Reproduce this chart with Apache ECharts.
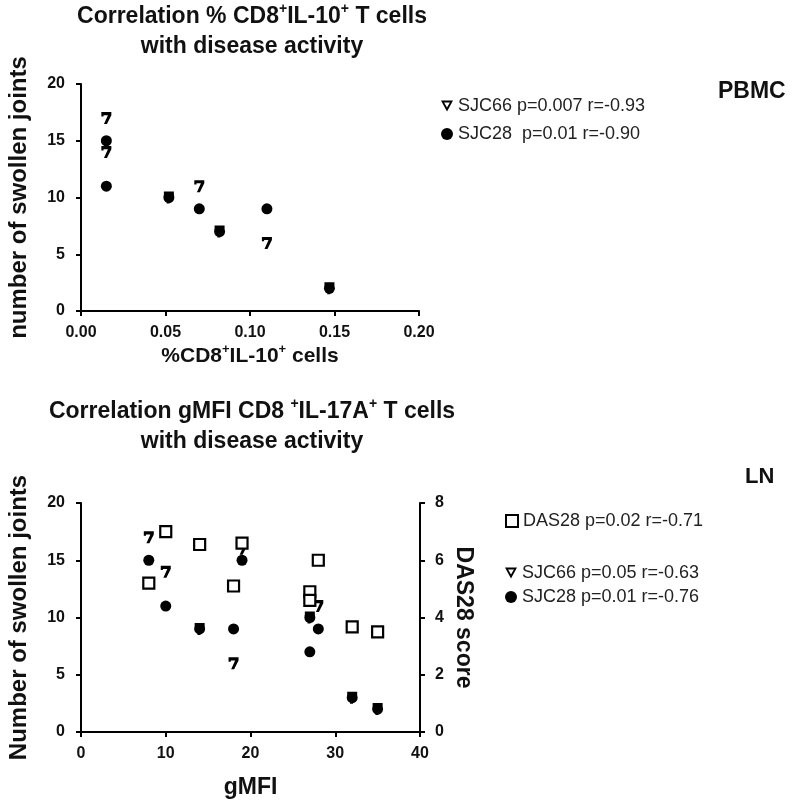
<!DOCTYPE html>
<html><head><meta charset="utf-8">
<script src="https://cdn.jsdelivr.net/npm/echarts@6/dist/echarts.min.js"></script>
<style>html,body{margin:0;padding:0;background:#fff}#c{width:798px;height:804px}</style>
</head><body><div id="c"></div>
<script>
// ---- Top panel (PBMC) ----
const pbmcX_SJC66 = [0.015, 0.015, 0.052, 0.070, 0.082, 0.110, 0.147];
const pbmcY_SJC66 = [17, 14, 10, 11, 7, 6, 2];
const pbmcX_SJC28 = [0.015, 0.015, 0.052, 0.070, 0.082, 0.110, 0.147];
const pbmcY_SJC28 = [15, 11, 10, 9, 7, 9, 2];
// ---- Bottom panel (LN) ----
const lnX_DAS28 = [8, 10, 14, 18, 19, 27, 27, 28, 32, 35];
const lnY_DAS28 = [5.2, 7.0, 6.55, 5.1, 6.6, 4.9, 4.6, 6.0, 3.67, 3.5];
const lnX_SJC66 = [8, 10, 14, 18, 19, 27, 28, 32, 35];
const lnY_SJC66 = [17, 14, 9, 6, 16, 10, 11, 3, 2];
const lnX_SJC28 = [8, 10, 14, 18, 19, 27, 28, 27, 32, 35];
const lnY_SJC28 = [15, 11, 9, 9, 15, 10, 9, 7, 3, 2];

const zip = (a, b) => a.map((v, i) => [v, b[i]]);
const sevenPath = 'path://M0,0 L10,0 L10,3.2 L5.6,12 L2.6,12 L6.6,3.2 L2.2,3.2 L2.2,4.4 L0,4.4 Z';
const triDown = 'path://M0,0 L10,0 L5,9 Z M2.6,1.5 L5,5.8 L7.4,1.5 Z';
const FONT = 'Liberation Sans, Arial, sans-serif';
const INK = '#000';

const axisCommon = {
  axisLine: {show: true, lineStyle: {color: INK, width: 2}},
  axisTick: {show: true, inside: false, length: 5, lineStyle: {color: INK, width: 2}},
  splitLine: {show: false},
  axisLabel: {color: '#111', fontFamily: FONT, fontWeight: 'bold', fontSize: 16, margin: 16},
  nameTextStyle: {color: '#111', fontFamily: FONT, fontWeight: 'bold', fontSize: 24},
  nameLocation: 'middle'
};
const richT = {
  m: {fontSize: 23, fontWeight: 'bold', fontFamily: FONT, color: '#111', lineHeight: 30},
  s: {fontSize: 14, fontWeight: 'bold', fontFamily: FONT, color: '#111', verticalAlign: 'top', lineHeight: 16}
};

const n1 = 'SJC66 p=0.007 r=-0.93';
const n2 = 'SJC28  p=0.01 r=-0.90';
const n3 = 'DAS28 p=0.02 r=-0.71';
const n4 = 'SJC66 p=0.05 r=-0.63';
const n5 = 'SJC28 p=0.01 r=-0.76';

const legendText = {color: '#222', fontFamily: FONT, fontSize: 18};

const option = {
  backgroundColor: '#fff',
  animation: false,
  title: [
    {text: '{m|Correlation % CD8}{s|+}{m|IL-10}{s|+}{m| T cells}\n{m|with disease activity}', left: 247, top: -3, textAlign: 'center',
     textStyle: {rich: richT}},
    {text: '{m|Correlation gMFI CD8 }{s|+}{m|IL-17A}{s|+}{m| T cells}\n{m|with disease activity}', left: 247, top: 392, textAlign: 'center',
     textStyle: {rich: richT}},
    {text: 'PBMC', left: 713, top: 75, textStyle: {fontFamily: FONT, fontWeight: 'bold', fontSize: 23, color: '#111'}},
    {text: 'LN', left: 740, top: 461, textStyle: {fontFamily: FONT, fontWeight: 'bold', fontSize: 22, color: '#111'}}
  ],
  legend: [
    {orient: 'vertical', left: 436, top: 92, itemGap: 10, itemWidth: 12, itemHeight: 12, textStyle: legendText,
     data: [{name: n1, icon: triDown, itemStyle: {color: INK}}, {name: n2, icon: 'circle'}]},
    {orient: 'vertical', left: 500, top: 507, itemWidth: 12, itemHeight: 12, textStyle: legendText,
     data: [{name: n3, icon: 'rect'}]},
    {orient: 'vertical', left: 500, top: 559, itemGap: 6, itemWidth: 12, itemHeight: 12, textStyle: legendText,
     data: [{name: n4, icon: triDown, itemStyle: {color: INK}}, {name: n5, icon: 'circle'}]}
  ],
  grid: [
    {left: 81, top: 84, width: 338, height: 227, containLabel: false},
    {left: 81, top: 503, width: 339, height: 229, containLabel: false}
  ],
  xAxis: [
    Object.assign({}, axisCommon, {gridIndex: 0, type: 'value', min: 0, max: 0.2, interval: 0.05,
      name: '{m|%CD8}{s|+}{m|IL-10}{s|+}{m| cells}', nameGap: 32,
      nameTextStyle: {rich: {m: {fontSize: 21, fontWeight: 'bold', fontFamily: FONT, color: '#111', lineHeight: 26},
                             s: {fontSize: 13, fontWeight: 'bold', fontFamily: FONT, color: '#111', verticalAlign: 'top', lineHeight: 12}}},
      axisLabel: Object.assign({}, axisCommon.axisLabel, {margin: 14, formatter: v => v.toFixed(2)})}),
    Object.assign({}, axisCommon, {gridIndex: 1, type: 'value', min: 0, max: 40, interval: 10,
      axisLabel: Object.assign({}, axisCommon.axisLabel, {margin: 14}),
      name: 'gMFI', nameGap: 44, nameTextStyle: Object.assign({}, axisCommon.nameTextStyle, {fontSize: 23})})
  ],
  yAxis: [
    Object.assign({}, axisCommon, {gridIndex: 0, type: 'value', min: 0, max: 20, interval: 5,
      name: 'number of swollen joints', nameGap: 50}),
    Object.assign({}, axisCommon, {gridIndex: 1, type: 'value', min: 0, max: 20, interval: 5,
      name: 'Number of swollen joints', nameGap: 50}),
    Object.assign({}, axisCommon, {gridIndex: 1, type: 'value', position: 'right', min: 0, max: 8, interval: 2,
      axisLabel: Object.assign({}, axisCommon.axisLabel, {margin: 15}),
      name: 'DAS28 score', nameGap: 32, nameRotate: -90,
      nameTextStyle: Object.assign({}, axisCommon.nameTextStyle, {fontSize: 23})})
  ],
  series: [
    {name: n2, type: 'scatter', xAxisIndex: 0, yAxisIndex: 0, symbol: 'circle', symbolSize: 11,
     itemStyle: {color: INK, opacity: 1}, data: zip(pbmcX_SJC28, pbmcY_SJC28)},
    {name: n1, type: 'scatter', xAxisIndex: 0, yAxisIndex: 0, symbol: sevenPath, symbolSize: [10, 12],
     itemStyle: {color: INK, opacity: 1}, data: zip(pbmcX_SJC66, pbmcY_SJC66)},
    {name: n5, type: 'scatter', xAxisIndex: 1, yAxisIndex: 1, symbol: 'circle', symbolSize: 11,
     itemStyle: {color: INK, opacity: 1}, data: zip(lnX_SJC28, lnY_SJC28)},
    {name: n4, type: 'scatter', xAxisIndex: 1, yAxisIndex: 1, symbol: sevenPath, symbolSize: [10, 12],
     itemStyle: {color: INK, opacity: 1}, data: zip(lnX_SJC66, lnY_SJC66)},
    {name: n3, type: 'scatter', xAxisIndex: 1, yAxisIndex: 2, symbol: 'rect', symbolSize: 11,
     itemStyle: {color: '#fff', borderColor: INK, borderWidth: 2.2, opacity: 1}, data: zip(lnX_DAS28, lnY_DAS28)}
  ]
};
const chart = echarts.init(document.getElementById('c'), null, {renderer: 'canvas'});
chart.setOption(option);
</script></body></html>
